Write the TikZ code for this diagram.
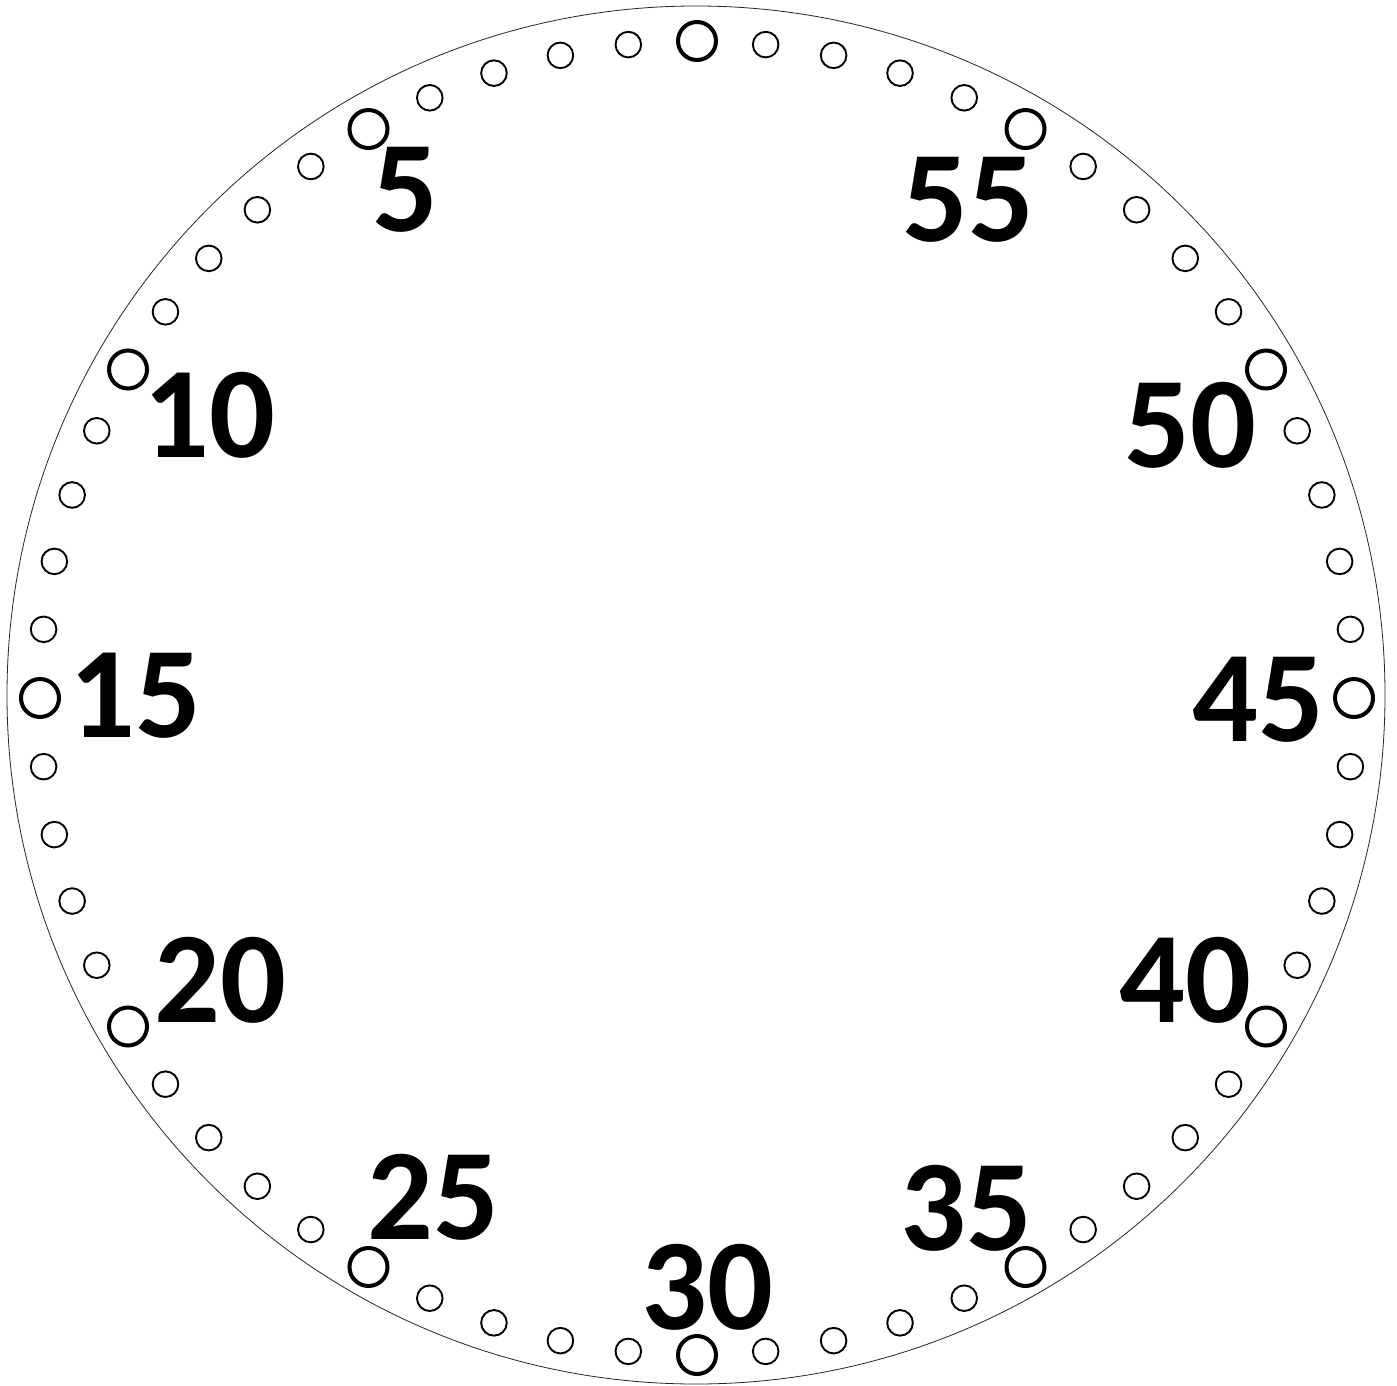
\documentclass[tikz,border=0pt]{standalone}
\usepackage{fontspec}
\setmainfont{Carlito}
\usetikzlibrary{calc}
\begin{document}
\begin{tikzpicture}[x=1pt,y=-1pt,
  minortick/.style={draw=black,line width=1.9pt},
  majortick/.style={draw=black,line width=4pt},
  dialnum/.style={inner sep=0pt,font=\fontsize{130}{130}\selectfont\bfseries}]
\useasboundingbox (0,0) rectangle (1397,1386);
\fill[white] (0,0) rectangle (1397,1386);
\draw[line width=0.8pt,black!85] (696,695) circle[radius=689];
\coordinate (c) at (697,698);
\foreach \i in {0,...,59}{
  \pgfmathsetmacro{\ang}{90+6*\i}
  \pgfmathtruncatemacro{\m}{mod(\i,5)}
  \ifnum\m=0
    \draw[majortick] ($(c)+(\ang:657 and -657)$) circle[radius=19];
  \else
    \draw[minortick] ($(c)+(\ang:657 and -657)$) circle[radius=12.8];
  \fi
}
\node[dialnum] (n5) at (405,190) {5};
\node[dialnum] (n55) at (968,200) {55};
\node[dialnum] (n10) at (209,415) {10};
\node[dialnum] (n50) at (1190,425) {50};
\node[dialnum] (n15) at (135,696) {15};
\node[dialnum] (n45) at (1258,700) {45};
\node[dialnum] (n20) at (220,980) {20};
\node[dialnum] (n40) at (1185,980) {40};
\node[dialnum] (n25) at (433,1197) {25};
\node[dialnum] (n35) at (966,1208) {35};
\node[dialnum] (n30) at (707,1287) {30};
\end{tikzpicture}
\end{document}
